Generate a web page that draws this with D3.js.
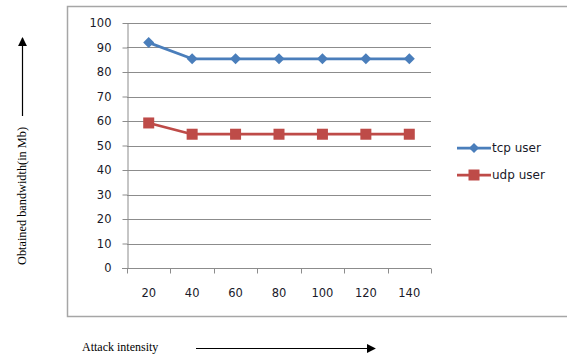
<!DOCTYPE html>
<html>
<head>
<meta charset="utf-8">
<script src="https://cdn.jsdelivr.net/npm/d3@7"></script>
<style>
  html, body { margin: 0; padding: 0; background: #fff; }
  svg { display: block; }
</style>
</head>
<body>
<svg id="chart" width="567" height="355"></svg>
<script>
// Attack intensity levels (x categories)
const categories = ["20", "40", "60", "80", "100", "120", "140"];
// Obtained bandwidth per user type (Mb)
const tcpValues = [92, 85.4, 85.4, 85.4, 85.4, 85.4, 85.4];
const udpValues = [59.2, 54.6, 54.6, 54.6, 54.6, 54.6, 54.6];
const yTicks = [0, 10, 20, 30, 40, 50, 60, 70, 80, 90, 100];
const seriesNames = ["tcp user", "udp user"];

const svg = d3.select("#chart");
const plot = { left: 127, right: 431, top: 23, bottom: 268 };
const labelFont = "'DejaVu Sans', Verdana, sans-serif";

const x = d3.scaleBand().domain(categories).range([plot.left, plot.right]);
const y = d3.scaleLinear().domain([0, 100]).range([plot.bottom, plot.top]);

// Chart frame
svg.append("rect")
  .attr("x", 67.5).attr("y", 6.5)
  .attr("width", 510).attr("height", 310)
  .attr("fill", "#fff").attr("stroke", "#a6a6a6").attr("stroke-width", 1.5);

// Horizontal gridlines
svg.append("g")
  .selectAll("line")
  .data(yTicks.filter(d => d > 0))
  .join("line")
  .attr("x1", plot.left).attr("x2", plot.right)
  .attr("y1", d => Math.round(y(d)) + 0.5).attr("y2", d => Math.round(y(d)) + 0.5)
  .attr("stroke", "#8c8c8c").attr("stroke-width", 1);

// Y axis
const yAxis = svg.append("g")
  .attr("transform", `translate(${plot.left + 0.5},0)`)
  .call(d3.axisLeft(y).tickValues(yTicks).tickSize(5).tickPadding(11).tickSizeOuter(0));
yAxis.select(".domain").attr("stroke", "#8c8c8c");
yAxis.selectAll(".tick line").attr("stroke", "#8c8c8c");
yAxis.selectAll("text")
  .attr("font-family", labelFont)
  .attr("font-size", 11.5).attr("fill", "#1a1a2a");

// X axis: ticks sit on band boundaries, labels at band centres
const xAxisG = svg.append("g")
  .attr("transform", `translate(0,${Math.round(plot.bottom) + 0.5})`);
xAxisG.append("line")
  .attr("x1", plot.left - 5).attr("x2", plot.right)
  .attr("stroke", "#8c8c8c");
xAxisG.selectAll("line.tk")
  .data(categories.concat(["end"]))
  .join("line").attr("class", "tk")
  .attr("x1", (d, i) => Math.round(plot.left + i * x.bandwidth()) + 0.5)
  .attr("x2", (d, i) => Math.round(plot.left + i * x.bandwidth()) + 0.5)
  .attr("y1", 0).attr("y2", 5)
  .attr("stroke", "#8c8c8c");
xAxisG.selectAll("text")
  .data(categories)
  .join("text")
  .attr("x", d => x(d) + x.bandwidth() / 2)
  .attr("y", 28)
  .attr("text-anchor", "middle")
  .attr("font-family", labelFont)
  .attr("font-size", 11.5).attr("fill", "#1a1a2a")
  .text(d => d);

const colors = ["#4a7ebb", "#be4b48"];
const line = d3.line()
  .x((d, i) => x(categories[i]) + x.bandwidth() / 2)
  .y(d => y(d));

[tcpValues, udpValues].forEach((vals, s) => {
  svg.append("path")
    .datum(vals)
    .attr("d", line)
    .attr("fill", "none")
    .attr("stroke", colors[s])
    .attr("stroke-width", 2.75)
    .attr("stroke-linejoin", "round");
});

// Markers: diamonds for tcp, squares for udp
svg.append("g").selectAll("path")
  .data(tcpValues)
  .join("path")
  .attr("transform", (d, i) => `translate(${x(categories[i]) + x.bandwidth() / 2},${y(d)})`)
  .attr("d", "M0,-5.5L5.5,0L0,5.5L-5.5,0Z")
  .attr("fill", colors[0]);
svg.append("g").selectAll("rect")
  .data(udpValues)
  .join("rect")
  .attr("x", (d, i) => x(categories[i]) + x.bandwidth() / 2 - 5.5)
  .attr("y", d => y(d) - 5.5)
  .attr("width", 11).attr("height", 11)
  .attr("fill", colors[1]);

// Legend
const legend = svg.append("g");
seriesNames.forEach((name, i) => {
  const ly = 148 + i * 27;
  legend.append("line")
    .attr("x1", 457).attr("x2", 491)
    .attr("y1", ly).attr("y2", ly)
    .attr("stroke", colors[i]).attr("stroke-width", 2.75);
  if (i === 0) {
    legend.append("path")
      .attr("transform", `translate(474,${ly})`)
      .attr("d", "M0,-5L5,0L0,5L-5,0Z")
      .attr("fill", colors[0]);
  } else {
    legend.append("rect")
      .attr("x", 468.5).attr("y", ly - 5.5)
      .attr("width", 11).attr("height", 11)
      .attr("fill", colors[1]);
  }
  legend.append("text")
    .attr("x", 492).attr("y", ly + 4)
    .attr("font-family", labelFont)
    .attr("font-size", 12).attr("fill", "#1a1a2a")
    .text(name);
});

// Axis titles with arrows
const defs = svg.append("defs");
defs.append("marker")
  .attr("id", "arrow")
  .attr("viewBox", "0 0 10 10")
  .attr("refX", 9).attr("refY", 5)
  .attr("markerWidth", 9).attr("markerHeight", 9)
  .attr("markerUnits", "userSpaceOnUse")
  .attr("orient", "auto")
  .append("path").attr("d", "M0,0L10,5L0,10Z").attr("fill", "#000");

svg.append("text")
  .attr("transform", "translate(26,196) rotate(-90)")
  .attr("text-anchor", "middle")
  .attr("font-family", "'Liberation Serif', 'Times New Roman', serif")
  .attr("font-size", 12).attr("fill", "#000")
  .attr("textLength", 138).attr("lengthAdjust", "spacingAndGlyphs")
  .text("Obtained bandwidth(in Mb)");
svg.append("line")
  .attr("x1", 22.5).attr("x2", 22.5)
  .attr("y1", 116).attr("y2", 38)
  .attr("stroke", "#000").attr("stroke-width", 1.2)
  .attr("marker-end", "url(#arrow)");

svg.append("text")
  .attr("x", 82).attr("y", 351)
  .attr("font-family", "'Liberation Serif', 'Times New Roman', serif")
  .attr("font-size", 12).attr("fill", "#000")
  .text("Attack intensity");
svg.append("line")
  .attr("x1", 196).attr("x2", 375)
  .attr("y1", 348.5).attr("y2", 348.5)
  .attr("stroke", "#000").attr("stroke-width", 1.2)
  .attr("marker-end", "url(#arrow)");
</script>
</body>
</html>
